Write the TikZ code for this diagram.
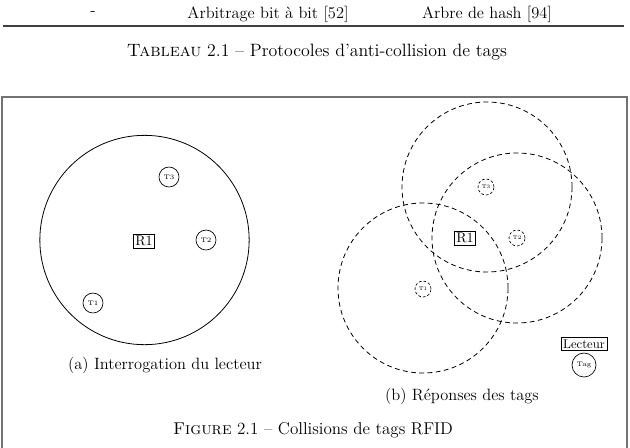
\documentclass[tikz,border=0pt]{standalone}
\usetikzlibrary{positioning}
\begin{document}
\begin{tikzpicture}[x=0.75pt,y=-0.75pt,
  txt/.style={font=\fontsize{12.3}{14}\selectfont, inner sep=0pt},
  captxt/.style={inner sep=0pt},
  reader/.style={draw, rectangle, line width=0.5pt, inner sep=1.6pt, font=\fontsize{10.5}{11}\selectfont},
  tagA/.style={draw, circle, line width=0.5pt, minimum size=15pt, inner sep=0pt, font=\fontsize{5}{5}\selectfont},
  tagB/.style={draw, circle, dashed, dash pattern=on 2pt off 1.5pt, line width=0.5pt, minimum size=12pt, inner sep=0pt, font=\fontsize{4}{4}\selectfont},
  zonedash/.style={draw, circle, dashed, dash pattern=on 3.6pt off 2.6pt, line width=0.6pt, minimum size=127.5pt, inner sep=0pt},
  frame/.style={draw=black!55, line width=1.1pt}
]
\useasboundingbox (0,0) rectangle (630,447);
% table remnants
\node[txt] (dash) at (93,14) {-};
\node[txt] (arb) at (268,14) {Arbitrage bit à bit [52]};
\node[txt] (hash) at (487,14) {Arbre de hash [94]};
\coordinate (rl) at (3,26);
\coordinate (rr) at (624,26);
\draw[black!75, line width=1.2pt] (rl) -- (rr);
\node[captxt, font=\fontsize{13.4}{15}\selectfont] (tabcap) at (317,52) {\textsc{Tableau} 2.1 -- Protocoles d'anti-collision de tags};
% frame
\coordinate (fbl) at (2,450);
\coordinate (ftl) at (2,97);
\coordinate (ftr) at (627,97);
\coordinate (fbr) at (627,450);
\draw[frame] (fbl) -- (ftl) -- (ftr) -- (fbr);
% (a)
\node[draw, circle, line width=0.6pt, minimum size=157pt, inner sep=0pt] (zoneA) at (144.5,240) {};
\node[reader] (r1a) at (144,241) {R1};
\node[tagA] (t3a) at (169,177) {T3};
\node[tagA] (t2a) at (206,240) {T2};
\node[tagA] (t1a) at (93,303) {T1};
\node[txt] (capa) at (165,365) {(a) Interrogation du lecteur};
% (b)
\node[zonedash] (z1) at (423,288) {};
\node[zonedash] (z2) at (517,238) {};
\node[zonedash] (z3) at (487,187) {};
\node[reader] (r1b) at (465,238) {R1};
\node[tagB] (t3b) at (486,187) {T3};
\node[tagB] (t2b) at (517,238) {T2};
\node[tagB] (t1b) at (423,289) {T1};
\node[reader, font=\fontsize{9.5}{10}\selectfont] (lect) at (584,344) {Lecteur};
\node[tagA, minimum size=18pt] (tag) at (584,365) {Tag};
\node[txt] (capb) at (462,396) {(b) Réponses des tags};
\node[captxt, font=\fontsize{12.8}{14}\selectfont] (figcap) at (313,430) {\textsc{Figure} 2.1 -- Collisions de tags RFID};
\end{tikzpicture}
\end{document}
